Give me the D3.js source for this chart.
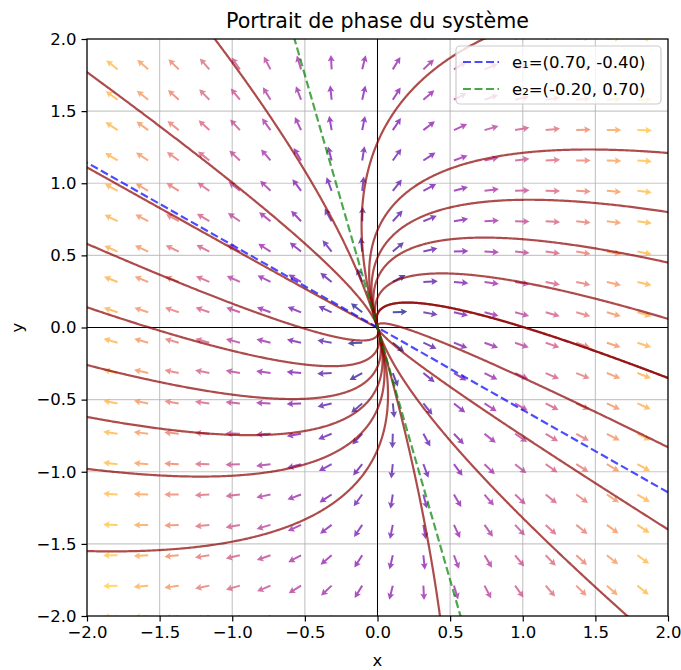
<!DOCTYPE html>
<html>
<head>
<meta charset="utf-8">
<script src="https://cdn.jsdelivr.net/npm/d3@7"></script>
<style>
body{margin:0;background:#fff}
text{font-family:"DejaVu Sans",sans-serif}
</style>
</head>
<body>
<svg id="vis" width="681" height="670"></svg>
<script>
// eigenvectors / eigenvalues of the system
var e1 = [0.70, -0.40]
var e2 = [-0.20, 0.70]
var eigenvalues = [2, 1]

// quiver grid (20 values from -2 to 2)
var gridValues = [-2, -1.7895, -1.5789, -1.3684, -1.1579, -0.9474, -0.7368, -0.5263, -0.3158, -0.1053,
                  0.1053, 0.3158, 0.5263, 0.7368, 0.9474, 1.1579, 1.3684, 1.5789, 1.7895, 2]

var tickValues = [-2, -1.5, -1, -0.5, 0, 0.5, 1, 1.5, 2]

// where each trajectory leaves the frame
var exitPoints = [
    [-2, 1.77], [-2, 1.11], [-2, 0.58], [-2, 0.14], [-2, -0.26], [-2, -0.62], [-2, -0.98], [-2, -1.55],
    [-1.12, 2], [0.73, 2],
    [2, 1.21], [2, 0.80], [2, 0.45], [2, 0.06], [2, -0.35], [2, -0.35], [2, -0.83], [2, -1.40],
    [0.43, -2], [1.72, -2]
]

var legendLabels = ["e\u2081=(0.70, -0.40)", "e\u2082=(-0.20, 0.70)"]

var x = d3.scaleLinear().domain([-2, 2]).range([87, 668])
var y = d3.scaleLinear().domain([-2, 2]).range([616, 39])
var svg = d3.select("#vis")

var det = e1[0]*e2[1] - e2[0]*e1[1]
function toEigen(p){
    return [(e2[1]*p[0] - e2[0]*p[1])/det, (-e1[1]*p[0] + e1[0]*p[1])/det]
}
function velocity(p){
    var ab = toEigen(p)
    return [eigenvalues[0]*ab[0]*e1[0] + eigenvalues[1]*ab[1]*e2[0],
            eigenvalues[0]*ab[0]*e1[1] + eigenvalues[1]*ab[1]*e2[1]]
}

svg.append("defs").append("clipPath").attr("id","plotclip")
    .append("rect").attr("x",87).attr("y",39).attr("width",581).attr("height",577)

//grid
var grid = svg.append("g")
grid.selectAll(".gx").data(tickValues).enter().append("line")
    .attr("x1",function(d){return x(d)}).attr("x2",function(d){return x(d)})
    .attr("y1",39).attr("y2",616)
    .attr("stroke","#b0b0b0").attr("stroke-width",1.2).attr("stroke-opacity",0.7)
grid.selectAll(".gy").data(tickValues).enter().append("line")
    .attr("y1",function(d){return y(d)}).attr("y2",function(d){return y(d)})
    .attr("x1",87).attr("x2",668)
    .attr("stroke","#b0b0b0").attr("stroke-width",1.2).attr("stroke-opacity",0.7)

var plot = svg.append("g").attr("clip-path","url(#plotclip)")

//quiver
var arrows = []
gridValues.forEach(function(gy){
    gridValues.forEach(function(gx){
        var v = velocity([gx, gy])
        arrows.push({x:gx, y:gy, u:v[0], v:v[1], m:Math.sqrt(v[0]*v[0]+v[1]*v[1])})
    })
})
var color = d3.scaleSequential(d3.interpolatePlasma).domain(d3.extent(arrows, function(d){return d.m}))
var L = 14.5, sw = 2, hl = 6.5, hw = 7, ha = 5.6
var arrowShape = [[0,-sw/2],[L-ha,-sw/2],[L-hl,-hw/2],[L,0],[L-hl,hw/2],[L-ha,sw/2],[0,sw/2]]
plot.selectAll(".arrow").data(arrows).enter().append("polygon")
    .attr("class","arrow")
    .attr("points", arrowShape.map(function(p){return p.join(",")}).join(" "))
    .attr("transform",function(d){
        var ang = Math.atan2(-d.v, d.u)*180/Math.PI
        return "translate("+x(d.x)+","+y(d.y)+") rotate("+ang+")"
    })
    .attr("fill",function(d){return color(d.m)})
    .attr("fill-opacity",0.7)

//zero axes
plot.append("line").attr("x1",x(0)).attr("x2",x(0)).attr("y1",39).attr("y2",616)
    .attr("stroke","#000").attr("stroke-width",1)
plot.append("line").attr("y1",y(0)).attr("y2",y(0)).attr("x1",87).attr("x2",668)
    .attr("stroke","#000").attr("stroke-width",1)

//trajectories
var line = d3.line().x(function(d){return x(d[0])}).y(function(d){return y(d[1])})
exitPoints.forEach(function(p){
    var ab = toEigen(p)
    var c = ab[0]/(ab[1]*ab[1])
    var pts = d3.range(0, 501).map(function(i){
        var s = ab[1]*1.4*i/500
        return [c*s*s*e1[0] + s*e2[0], c*s*s*e1[1] + s*e2[1]]
    })
    plot.append("path").datum(pts).attr("d",line)
        .attr("fill","none").attr("stroke","#8b0000")
        .attr("stroke-opacity",0.7).attr("stroke-width",2.2)
})

//eigen directions
var eigColors = ["#0000ff", "#008000"]
;[e1, e2].forEach(function(e, i){
    var k = 10
    plot.append("line")
        .attr("x1",x(-k*e[0])).attr("y1",y(-k*e[1]))
        .attr("x2",x(k*e[0])).attr("y2",y(k*e[1]))
        .attr("stroke",eigColors[i]).attr("stroke-opacity",0.7)
        .attr("stroke-width",2.2).attr("stroke-dasharray","8,3.5")
})

//axes
var fs = "16.5px"
var xAxis = svg.append("g").attr("transform","translate(0,616)")
    .call(d3.axisBottom(x).tickValues(tickValues).tickFormat(d3.format(".1f")).tickSize(5.5).tickPadding(5))
var yAxis = svg.append("g").attr("transform","translate(87,0)")
    .call(d3.axisLeft(y).tickValues(tickValues).tickFormat(d3.format(".1f")).tickSize(5.5).tickPadding(5))
;[xAxis, yAxis].forEach(function(a){
    a.select(".domain").remove()
    a.selectAll("text").style("font-size",fs).style("font-family","DejaVu Sans").attr("fill","#000")
    a.selectAll("line").attr("stroke","#000").attr("stroke-width",1.2)
})
svg.append("rect").attr("x",87).attr("y",39).attr("width",581).attr("height",577)
    .attr("fill","none").attr("stroke","#000").attr("stroke-width",1.2)

svg.append("text").attr("x",377.5).attr("y",28).attr("text-anchor","middle")
    .style("font-size","20.6px").text("Portrait de phase du système")
svg.append("text").attr("x",377.5).attr("y",666).attr("text-anchor","middle")
    .style("font-size",fs).text("x")
svg.append("text").attr("transform","translate(23,327.5) rotate(-90)").attr("text-anchor","middle")
    .style("font-size",fs).text("y")

//legend
var lg = svg.append("g")
lg.append("rect").attr("x",456).attr("y",46).attr("width",205).attr("height",58).attr("rx",4)
    .attr("fill","#fff").attr("fill-opacity",0.8).attr("stroke","#cccccc").attr("stroke-width",1.2)
legendLabels.forEach(function(t, i){
    var yy = 62 + i*27
    lg.append("line").attr("x1",463).attr("x2",499).attr("y1",yy).attr("y2",yy)
        .attr("stroke",eigColors[i]).attr("stroke-opacity",0.7)
        .attr("stroke-width",2.2).attr("stroke-dasharray","8,3.5")
    lg.append("text").attr("x",512).attr("y",yy+6).style("font-size",fs).text(t)
})
</script>
</body>
</html>
